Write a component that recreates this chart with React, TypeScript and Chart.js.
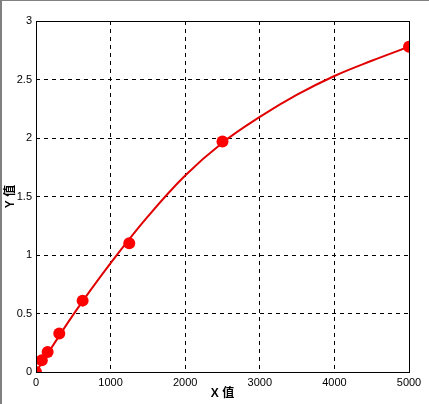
import React, { useEffect, useRef } from "react";
import { Chart, registerables } from "chart.js";

Chart.register(...registerables);

// measured standards
const xValues = [0, 78, 156, 312, 625, 1250, 2500, 5000];
const yValues = [0, 0.1, 0.17, 0.33, 0.61, 1.1, 1.97, 2.78];
// fitted curve
const curveX = [0, 500, 1000, 1500, 2000, 2500, 3000, 3500, 4000, 4500, 5000];
const curveY = [0, 0.49, 0.93, 1.33, 1.68, 1.96, 2.18, 2.37, 2.53, 2.66, 2.78];
const xTicks = [0, 1000, 2000, 3000, 4000, 5000];
const yTicks = [0, 0.5, 1, 1.5, 2, 2.5, 3];

const FONT = "'Liberation Sans', Arial, 'Noto Sans CJK SC', sans-serif";

const frame = {
  id: "frame",
  afterDraw(chart: any) {
    const { ctx, chartArea: a } = chart;
    ctx.save();
    ctx.strokeStyle = "#000";
    ctx.lineWidth = 1;
    ctx.strokeRect(Math.round(a.left) + 0.5, Math.round(a.top) + 0.5, Math.round(a.right - a.left), Math.round(a.bottom - a.top));
    ctx.restore();
  },
};

export default function App() {
  const ref = useRef<HTMLCanvasElement>(null);
  useEffect(() => {
    document.body.style.margin = "0";
    const chart = new Chart(ref.current!, {
      type: "scatter",
      data: {
        datasets: [
          {
            data: xValues.map((x, i) => ({ x, y: yValues[i] })),
            showLine: false,
            backgroundColor: "#ff0000",
            pointBackgroundColor: "#ff0000",
            pointBorderColor: "#ff0000",
            pointRadius: 6,
            pointBorderWidth: 0,
          } as any,
          {
            data: curveX.map((x, i) => ({ x, y: curveY[i] })),
            showLine: true,
            tension: 0.4,
            borderColor: "#e00000",
            borderWidth: 2,
            pointRadius: 0,
          } as any,
        ],
      },
      options: {
        animation: false,
        responsive: false,
        devicePixelRatio: 1,
        layout: { padding: { left: 0, top: 21, right: 20, bottom: 0 } },
        plugins: { legend: { display: false }, tooltip: { enabled: false } },
        scales: {
          x: {
            type: "linear",
            min: 0,
            max: 5000,
            afterFit: (s: any) => { s.height = 32; },
            afterBuildTicks: (s: any) => { s.ticks = xTicks.map((v) => ({ value: v })); },
            grid: { color: "#000", lineWidth: 1, tickLength: 0, drawTicks: false },
            border: { display: false, dash: [4, 4] },
            ticks: { color: "#000", font: { family: FONT, size: 11 }, padding: 4, maxRotation: 0, autoSkip: false, callback: (v: any) => String(v) },
            title: { display: true, text: "X 值", color: "#000", font: { family: FONT, size: 12, weight: "bold" }, padding: { top: 0, bottom: 3 } },
          },
          y: {
            type: "linear",
            min: 0,
            max: 3,
            afterFit: (s: any) => { s.width = 36; },
            afterBuildTicks: (s: any) => { s.ticks = yTicks.map((v) => ({ value: v })); },
            grid: { color: "#000", lineWidth: 1, tickLength: 0, drawTicks: false },
            border: { display: false, dash: [4, 4] },
            ticks: { color: "#000", font: { family: FONT, size: 11 }, padding: 4, autoSkip: false, callback: (v: any) => String(v) },
            title: { display: true, text: "Y 值", color: "#000", font: { family: FONT, size: 12, weight: "bold" }, padding: { top: 3, bottom: 0 } },
          },
        },
      } as any,
      plugins: [frame],
    });
    return () => chart.destroy();
  }, []);
  return (
    <div style={{ position: "fixed", left: 0, top: 0, width: 429, height: 404, background: "#fff" }}>
      <canvas ref={ref} width={429} height={404} style={{ display: "block" }} />
      <div style={{ position: "absolute", left: 0, top: 0, width: 2, height: 404, background: "#808080" }} />
      <div style={{ position: "absolute", left: 0, top: 0, width: 429, height: 1, background: "#808080" }} />
    </div>
  );
}
